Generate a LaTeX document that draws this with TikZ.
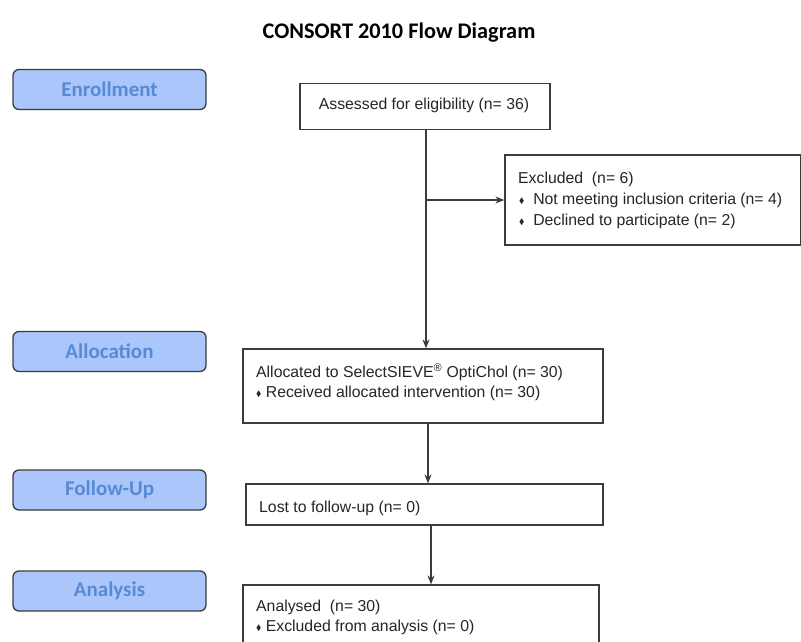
\documentclass[tikz,border=0pt]{standalone}
\usepackage{fontspec}
\usepackage{amssymb}
\setmainfont{Liberation Sans}
\newfontfamily\calib{Carlito}
\usetikzlibrary{arrows.meta,calc}
\definecolor{lblfill}{RGB}{170,198,250}
\definecolor{lbltext}{RGB}{88,138,212}
\definecolor{linecol}{RGB}{60,60,60}
\newcommand{\bulx}{\raisebox{0.8pt}{\scalebox{0.5}{$\blacklozenge$}}}
\begin{document}
\begin{tikzpicture}[x=1pt,y=-1pt,
  stage/.style={draw=linecol,line width=1.3pt,fill=lblfill,rounded corners=6pt,
    minimum width=193pt,minimum height=40pt,inner sep=0pt,
    font=\calib\bfseries\fontsize{21}{24}\selectfont,text=lbltext},
  flowbox/.style={draw=linecol,line width=1.2pt,inner sep=0pt},
  boxtext/.style={font=\fontsize{15.8}{19}\selectfont,text=black!85,inner sep=0pt,anchor=base west},
  arr/.style={draw=linecol,line width=1.2pt,-{Stealth[length=9pt,width=7pt]}}]
\clip (0,0) rectangle (801,641);
\fill[white] (0,0) rectangle (801,641);
\node[font=\calib\bfseries\fontsize{22.3}{26}\selectfont] (title) at (399,33) {CONSORT 2010 Flow Diagram};
% stage labels
\node[stage] (enr) at (109.5,89.5) {Enrollment};
\node[stage] (allo) at (109.5,351.5) {Allocation};
\node[stage] (fol) at (109.5,490) {Follow-Up};
\node[stage] (ana) at (109.5,591) {Analysis};
% flow boxes
\node[flowbox,minimum width=250pt,minimum height=46pt] (assess) at (425,106.5) {};
\node[flowbox,minimum width=296pt,minimum height=90pt] (excl) at (653,200) {};
\node[flowbox,minimum width=360pt,minimum height=74pt] (alloc) at (423,386) {};
\node[flowbox,minimum width=357pt,minimum height=41pt] (follow) at (424.5,504.5) {};
\node[flowbox,minimum width=356pt,minimum height=80pt] (anal) at (421,625) {};
% texts
\node[boxtext,anchor=base] (tassess) at (424,109.5) {Assessed for eligibility (n= 36)};
\node[boxtext] (texcl1) at (518,183) {Excluded\ \ (n= 6)};
\node[boxtext] (texcl2) at (519,204) {\bulx\ \ Not meeting inclusion criteria (n= 4)};
\node[boxtext] (texcl3) at (519,225) {\bulx\ \ Declined to participate (n= 2)};
\node[boxtext] (talloc1) at (256,377) {Allocated to SelectSIEVE\textsuperscript{®} OptiChol (n= 30)};
\node[boxtext] (talloc2) at (256,397) {\bulx\ Received allocated intervention (n= 30)};
\node[boxtext] (tfollow) at (259,512.5) {Lost to follow-up (n= 0)};
\node[boxtext] (tanal1) at (256,611.5) {Analysed\ \ (n= 30)};
\node[boxtext] (tanal2) at (256,631.5) {\bulx\ Excluded from analysis (n= 0)};
% connectors
\coordinate (branch) at ([xshift=1pt]assess.south |- excl.west);
\draw[arr] ([xshift=1pt]assess.south) -- ([xshift=1pt]assess.south |- alloc.north);
\draw[arr] (branch) -- (excl.west);
\draw[arr] ([xshift=5pt]alloc.south) -- ([xshift=5pt]alloc.south |- follow.north);
\draw[arr] ([xshift=6.5pt]follow.south) -- ([xshift=6.5pt]follow.south |- anal.north);
\end{tikzpicture}
\end{document}
